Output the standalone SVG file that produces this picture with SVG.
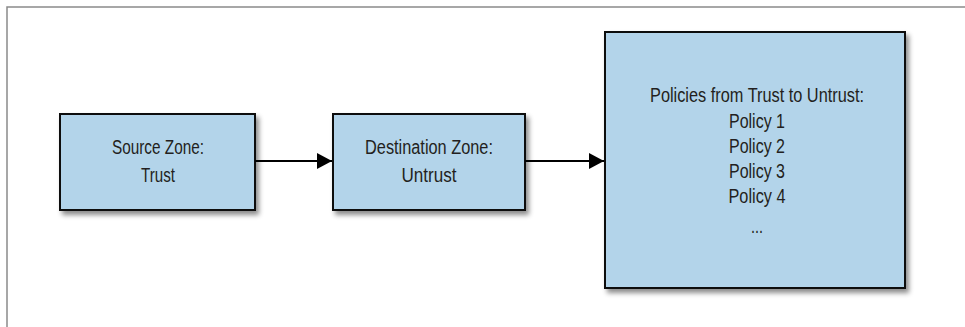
<svg xmlns="http://www.w3.org/2000/svg" width="965" height="327" viewBox="0 0 965 327">
<style>
.box{fill:#b3d4ea;stroke:#111;stroke-width:2}
.lbl{font-family:"Liberation Sans",Arial,sans-serif;font-size:20px;fill:#231f20;text-anchor:middle}
.conn{stroke:#000;stroke-width:2;fill:none}
</style>
<defs>
<filter id="sh" x="-10%" y="-10%" width="130%" height="130%">
<feDropShadow dx="3" dy="4" stdDeviation="2.5" flood-color="#000" flood-opacity="0.45"/>
</filter>
<marker id="ah" markerWidth="15" markerHeight="16" refX="15" refY="8" orient="auto" markerUnits="userSpaceOnUse">
<path d="M0,0 L15,8 L0,16 Z" fill="#000"/>
</marker>
</defs>
<rect width="965" height="327" fill="#fff"/>
<path d="M7,327 L7,7 L965,7" fill="none" stroke="#8a8a8a" stroke-width="1.5"/>
<g id="source">
<rect class="box" x="60" y="114" width="195" height="96" filter="url(#sh)"/>
<text class="lbl" x="158" y="154" textLength="92" lengthAdjust="spacingAndGlyphs">Source Zone:</text>
<text class="lbl" x="158" y="182" textLength="34" lengthAdjust="spacingAndGlyphs">Trust</text>
</g>
<g id="destination">
<rect class="box" x="333" y="114" width="192" height="96" filter="url(#sh)"/>
<text class="lbl" x="429" y="154" textLength="128" lengthAdjust="spacingAndGlyphs">Destination Zone:</text>
<text class="lbl" x="429" y="182" textLength="55" lengthAdjust="spacingAndGlyphs">Untrust</text>
</g>
<g id="policies">
<rect class="box" x="605" y="32" width="300" height="256" filter="url(#sh)"/>
<text class="lbl" x="757" y="102" textLength="214" lengthAdjust="spacingAndGlyphs">Policies from Trust to Untrust:</text>
<text class="lbl" x="757" y="128" textLength="56" lengthAdjust="spacingAndGlyphs">Policy 1</text>
<text class="lbl" x="757" y="153" textLength="56" lengthAdjust="spacingAndGlyphs">Policy 2</text>
<text class="lbl" x="757" y="178" textLength="56" lengthAdjust="spacingAndGlyphs">Policy 3</text>
<text class="lbl" x="757" y="203" textLength="57" lengthAdjust="spacingAndGlyphs">Policy 4</text>
<text class="lbl" x="757" y="233" textLength="12" lengthAdjust="spacingAndGlyphs">...</text>
</g>
<g id="connectors">
<line class="conn" x1="255" y1="161" x2="332" y2="161" marker-end="url(#ah)"/>
<line class="conn" x1="525" y1="161" x2="604" y2="161" marker-end="url(#ah)"/>
</g>
</svg>
